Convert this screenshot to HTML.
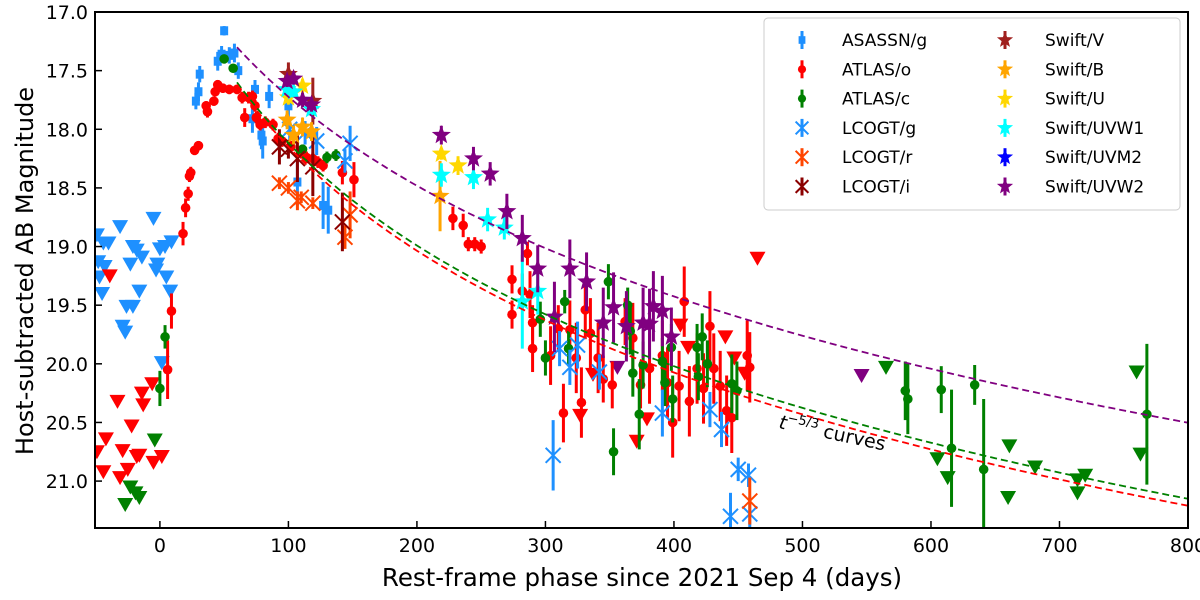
<!DOCTYPE html>
<html><head><meta charset="utf-8">
<style>
body{margin:0;background:#fff;}
svg{display:block;font-family:"DejaVu Sans","Liberation Sans",sans-serif;}
</style></head>
<body>
<svg id="chart" width="1200" height="600"></svg>
<script>
// ---- data: [phase, mag, err] ----
const asassnG = [[50,17.16,0.04],[31,17.53,0.07],[30,17.68,0.08],[28,17.76,0.07],[45,17.42,0.08],[48,17.36,0.07],[54,17.37,0.07],[58,17.35,0.08],[61,17.5,0.07],[74,17.66,0.08],[85,17.72,0.1],[72,17.91,0.12],[79,18.05,0.12],[80,18.1,0.15],[100,17.8,0.1],[107,18.45,0.2],[127,18.65,0.2],[131,18.69,0.2]];
const asassnGLim = [[-49,18.9],[-44,18.97],[-40,18.97],[-31,18.83],[-48,19.13],[-43,19.17],[-47,19.26],[-45,19.4],[-29,19.68],[-27,19.73],[-26,19.51],[-21,19.51],[-23,19.15],[-21,19.0],[-18,19.03],[-14,19.09],[-16,19.38],[-5,18.76],[-2,19.15],[-3,19.2],[0,19.02],[4,19.0],[9,18.96],[5,19.26],[8,19.38],[1.5,19.99]];
const atlasO = [[6,20.05,0.25],[9,19.55,0.15],[18,18.89,0.1],[20,18.67,0.08],[22,18.55,0.06],[23,18.4,0.05],[24,18.37,0.05],[27,18.18,0.04],[30,18.14,0.04],[37,17.85,0.05],[36,17.8,0.04],[42,17.76,0.04],[43,17.68,0.04],[45,17.62,0.04],[49,17.65,0.04],[54,17.66,0.04],[60,17.66,0.04],[64,17.73,0.05],[66,17.9,0.08],[69,17.73,0.05],[72,17.72,0.05],[74,17.8,0.05],[75,17.9,0.05],[78,17.96,0.05],[82,17.94,0.05],[88,17.96,0.05],[92,18.08,0.05],[95,18.1,0.05],[102,18.15,0.05],[110,18.2,0.05],[114,18.24,0.05],[119,18.25,0.05],[123,18.28,0.05],[127,18.31,0.05],[142,18.37,0.1],[151,18.43,0.15],
[228,18.76,0.1],[236,18.82,0.1],[240,18.98,0.06],[245,18.98,0.06],[250,19.0,0.06],[274,19.28,0.12],[274,19.58,0.12],[282,19.38,0.15],[286,19.06,0.1],[288,19.41,0.2],[290,19.87,0.2],[290,19.65,0.15],[304,19.93,0.25],[310,19.7,0.2],[314,20.42,0.25],[319,19.71,0.25],[324,19.95,0.3],[328,20.33,0.3],[331,19.54,0.25],[335,19.74,0.3],[341,19.95,0.3],[345,20.13,0.2],[352,20.18,0.2],[362,19.64,0.2],[368,19.78,0.3],[374,20.18,0.2],[381,20.04,0.3],[391,19.93,0.3],[395,20.16,0.3],[399,20.5,0.3],[404,20.19,0.3],[408,19.47,0.3],[412,20.32,0.3],[418,20.04,0.3],[423,20.21,0.3],[428,19.68,0.3],[431,20.04,0.3],[436,20.19,0.3],[441,20.4,0.3],[445,20.46,0.3],[457,19.93,0.3],[459,20.03,0.3]];
const atlasOLim = [[-39,19.25],[-49,20.75],[-42,20.64],[-44,20.92],[-33,20.32],[-29,20.74],[-31,20.97],[-25,20.9],[-22,20.53],[-18,20.79],[-16,20.78],[-14,20.25],[-13,20.35],[-6,20.17],[-5,20.84],[1.5,20.79],[327,20.44],[337,20.09],[371,20.66],[379,20.47],[405,19.67],[411,19.86],[440,19.77],[447,19.95],[455,20.08],[465,19.1]];
const atlasC = [[0,20.21,0.15],[4,19.77,0.1],[50,17.4,0.03],[57,17.48,0.03],[111,18.17,0.04],[130,18.24,0.05],[137,18.22,0.05],[296,19.62,0.15],[300,19.95,0.15],[315,19.47,0.1],[318,19.87,0.15],[349,19.3,0.15],[353,20.75,0.2],[364,19.5,0.15],[366,19.72,0.2],[368,20.08,0.2],[373,20.43,0.3],[376,20.01,0.2],[391,19.98,0.2],[393,20.16,0.2],[398,19.86,0.2],[399,20.3,0.2],[418,19.86,0.2],[419,20.11,0.2],[426,20.0,0.2],[422,19.77,0.2],[445,20.17,0.25],[449,20.23,0.25],[580,20.23,0.25],[582,20.3,0.3],[608,20.22,0.2],[616,20.72,0.5],[634,20.18,0.17],[641,20.9,0.6],[768,20.43,0.6]];
const atlasCLim = [[-27,21.2],[-23,21.05],[-19,21.1],[-16,21.14],[-4,20.65],[565,20.03],[605,20.81],[613,20.97],[661,20.7],[660,21.14],[681,20.88],[714,20.99],[720,20.95],[714,21.1],[760,20.07],[763,20.77]];
const lcogtG = [[101,18.0,0.1],[113,18.03,0.1],[122,18.1,0.12],[144,18.27,0.1],[148,18.12,0.15],[306,20.78,0.3],[311,19.87,0.15],[319,20.03,0.15],[325,19.84,0.2],[342,20.07,0.15],[391,20.42,0.2],[428,20.39,0.15],[437,20.56,0.15],[450,20.9,0.1],[458,20.95,0.1],[444,21.3,0.2],[459,21.28,0.15]];
const lcogtR = [[93,18.46,0.05],[100,18.5,0.05],[107,18.61,0.08],[110,18.58,0.05],[119,18.63,0.05],[144,18.92,0.1],[148,18.73,0.2],[459,21.17,0.2]];
const lcogtI = [[93,18.15,0.15],[100,18.17,0.08],[107,18.25,0.2],[119,18.32,0.25],[142,18.79,0.25]];
const swiftV = [[100,17.53,0.1],[119,17.76,0.2]];
const swiftB = [[99,17.92,0.08],[104,18.05,0.08],[111,17.98,0.08],[118,18.02,0.08],[218,18.57,0.3]];
const swiftU = [[100,17.73,0.06],[111,17.63,0.06],[219,18.21,0.05],[232,18.31,0.08]];
const swiftUVW1 = [[99,17.66,0.05],[104,17.68,0.05],[118,17.83,0.05],[219,18.39,0.1],[244,18.41,0.1],[255,18.77,0.1],[268,18.84,0.1],[282,19.47,0.4],[294,19.38,0.2]];
const swiftUVM2 = [];
const swiftUVW2 = [[99,17.59,0.05],[104,17.57,0.05],[111,17.75,0.06],[118,17.79,0.06],[219,18.05,0.08],[244,18.25,0.1],[257,18.38,0.1],[270,18.7,0.15],[282,18.93,0.2],[294,19.19,0.2],[307,19.6,0.3],[319,19.19,0.25],[332,19.3,0.25],[345,19.65,0.3],[353,19.52,0.3],[363,19.68,0.3],[376,19.65,0.3],[381,19.66,0.3],[384,19.51,0.3],[391,19.55,0.3],[398,19.77,0.25]];
const swiftUVW2Lim = [[356,20.03],[546,20.1]];
// t^-5/3 curve params: [m_start, t0, t_start]
const curvePurple = [17.3,-92,60];
const curveGreen = [17.6,-61,60];
const curveRed = [17.62,-58,60];
const xTicks = [0,100,200,300,400,500,600,700,800];
const yTicks = [17.0,17.5,18.0,18.5,19.0,19.5,20.0,20.5,21.0];

const NS="http://www.w3.org/2000/svg";
const svg=document.getElementById('chart');
const L=95,R=1188,T=12,B=528;
const xMin=-50.5,xMax=800,yMin=17.0,yMax=21.4;
const X=t=>L+(t-xMin)/(xMax-xMin)*(R-L);
const Y=m=>T+(m-yMin)/(yMax-yMin)*(B-T);
function el(tag,attrs,parent){const e=document.createElementNS(NS,tag);for(const k in attrs)e.setAttribute(k,attrs[k]);(parent||svg).appendChild(e);return e;}

const clip=el('clipPath',{id:'pc'});el('rect',{x:L,y:T,width:R-L,height:B-T},clip);
const plot=el('g',{'clip-path':'url(#pc)'});



function marker(g,shape,cx,cy,color,s){
  if(shape==='circle')return el('circle',{cx,cy,r:4.8*s,fill:color},g);
  if(shape==='square')return el('rect',{x:cx-4*s,y:cy-4.5*s,width:8*s,height:9*s,fill:color},g);
  if(shape==='tri'){const w=8;return el('polygon',{points:`${cx-w},${cy-6.5} ${cx+w},${cy-6.5} ${cx},${cy+7.5}`,fill:color},g);}
  if(shape==='x'){const d=7.5*s;return el('path',{d:`M${cx-d},${cy-d}L${cx+d},${cy+d}M${cx-d},${cy+d}L${cx+d},${cy-d}`,stroke:color,'stroke-width':2,fill:'none'},g);}
  if(shape==='star'){let p=[];const ro=10*s,ri=4.2*s;for(let i=0;i<10;i++){const a=-Math.PI/2+i*Math.PI/5;const r=i%2?ri:ro;p.push((cx+r*Math.cos(a)).toFixed(1)+','+(cy+r*Math.sin(a)).toFixed(1));}return el('polygon',{points:p.join(' '),fill:color},g);}
}
function series(data,name,shape,color){
  const g=el('g',{},plot);
  
  
  data.forEach(d=>{
    const cx=X(d[0]),cy=Y(d[1]);
    if(d.length>2){const ln=el('line',{x1:cx,x2:cx,y1:Y(d[1]-d[2]),y2:Y(d[1]+d[2]),stroke:color,'stroke-width':3},g);
      }
    const m=marker(g,shape,cx,cy,color,1);
    
    
  });
}
function curve(p,color,name){
  let d='';for(let t=p[2];t<=800;t+=5){const m=p[0]+25/6*Math.log10((t-p[1])/(p[2]-p[1]));d+=(d?'L':'M')+X(t).toFixed(1)+','+Y(m).toFixed(1);}
  const c=el('path',{d,stroke:color,'stroke-width':1.8,fill:'none','stroke-dasharray':'7,4'},plot);
  
  
}
series(asassnGLim,'asassn-g-limits','tri','#1e90ff');
series(atlasOLim,'atlas-o-limits','tri','#ff0000');
series(atlasCLim,'atlas-c-limits','tri','#008000');
series(swiftUVW2Lim,'swift-uvw2-limits','tri','#800080');
series(asassnG,'asassn-g-series','square','#1e90ff');
series(atlasO,'atlas-o-series','circle','#ff0000');
series(atlasC,'atlas-c-series','circle','#008000');
series(lcogtG,'lcogt-g-series','x','#1e90ff');
series(lcogtR,'lcogt-r-series','x','#ff4500');
series(lcogtI,'lcogt-i-series','x','#8b0000');
series(swiftV,'swift-v-series','star','#a0201e');
series(swiftB,'swift-b-series','star','#ffa500');
series(swiftU,'swift-u-series','star','#ffd700');
series(swiftUVW1,'swift-uvw1-series','star','#00ffff');
series(swiftUVM2,'swift-uvm2-series','star','#0000ff');
series(swiftUVW2,'swift-uvw2-series','star','#800080');
curve(curvePurple,'#800080','uvw2-decay-curve');
curve(curveGreen,'#008000','atlas-c-decay-curve');
curve(curveRed,'#ff0000','atlas-o-decay-curve');

// axes
const frame=el('rect',{x:L,y:T,width:R-L,height:B-T,fill:'none',stroke:'#000','stroke-width':2});

xTicks.forEach(t=>{const x=X(t);if(x>R+1)return;
  el('line',{x1:x,x2:x,y1:B,y2:B-7,stroke:'#000','stroke-width':1.5});
  const tx=el('text',{x:x,y:B+24,'font-size':19,'text-anchor':'middle'});tx.textContent=t;
  });
yTicks.forEach(m=>{const y=Y(m);
  el('line',{x1:L,x2:L+7,y1:y,y2:y,stroke:'#000','stroke-width':1.5});
  const tx=el('text',{x:L-7,y:y+7,'font-size':19,'text-anchor':'end'});tx.textContent=m.toFixed(1);
  });
const xl=el('text',{x:642,y:586,'font-size':24.5,'text-anchor':'middle'});xl.textContent='Rest-frame phase since 2021 Sep 4 (days)';

const yl=el('text',{x:0,y:0,'font-size':24,'text-anchor':'middle',transform:'translate(33,271) rotate(-90)'});yl.textContent='Host-subtracted AB Magnitude';

const an=el('text',{x:0,y:0,'font-size':19,transform:'translate(778,428) rotate(12)'});
an.innerHTML='<tspan font-style="italic">t</tspan><tspan dy="-8" font-size="13">−5/3</tspan><tspan dy="8"> curves</tspan>';


// legend
const lg=el('g',{});

el('rect',{x:764,y:18,width:416,height:192,rx:4,fill:'#fff',stroke:'#ccc','stroke-width':1},lg);
const entries=[['ASASSN/g','square','#1e90ff'],['ATLAS/o','circle','#ff0000'],['ATLAS/c','circle','#008000'],['LCOGT/g','x','#1e90ff'],['LCOGT/r','x','#ff4500'],['LCOGT/i','x','#8b0000'],
['Swift/V','star','#a0201e'],['Swift/B','star','#ffa500'],['Swift/U','star','#ffd700'],['Swift/UVW1','star','#00ffff'],['Swift/UVM2','star','#0000ff'],['Swift/UVW2','star','#800080']];
entries.forEach((e,i)=>{const col=i<6?0:1,row=i%6;const mx=col?1005:802,y=40+row*29.3;
  const g=el('g',{},lg);
  
  el('line',{x1:mx,x2:mx,y1:y-9,y2:y+9,stroke:e[2],'stroke-width':3},g);
  marker(g,e[1],mx,y,e[2],0.85);
  const t=el('text',{x:mx+40,y:y+6,'font-size':17},g);t.textContent=e[0];});
</script>
</body></html>
